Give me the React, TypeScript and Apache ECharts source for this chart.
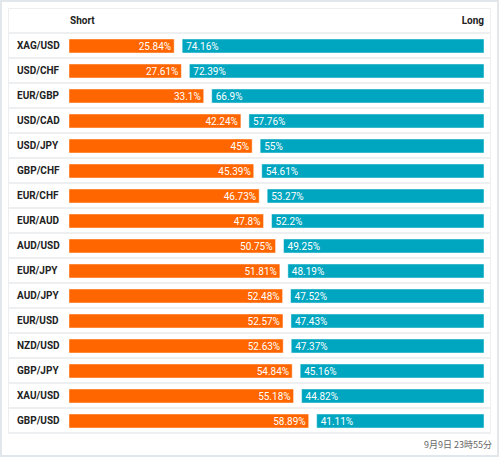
import React, { useEffect, useRef } from "react";
import * as echarts from "echarts";

const pairs = ["XAG/USD","USD/CHF","EUR/GBP","USD/CAD","USD/JPY","GBP/CHF","EUR/CHF","EUR/AUD","AUD/USD","EUR/JPY","AUD/JPY","EUR/USD","NZD/USD","GBP/JPY","XAU/USD","GBP/USD"];
const shortPct = [25.84,27.61,33.1,42.24,45,45.39,46.73,47.8,50.75,51.81,52.48,52.57,52.63,54.84,55.18,58.89];
const longPct = [74.16,72.39,66.9,57.76,55,54.61,53.27,52.2,49.25,48.19,47.52,47.43,47.37,45.16,44.82,41.11];
const headers = ["Short", "Long"];
const timestamp = "9月9日 23時55分";

const ORANGE = "#ff6600";
const TEAL = "#00a6c0";
const FONT = "Roboto, 'Noto Sans', sans-serif";

export default function App() {
  const ref = useRef<HTMLDivElement>(null);
  useEffect(() => {
    const chart = echarts.init(ref.current!, undefined, { renderer: "svg" });
    const GAP = 8;
    chart.setOption({
      animation: false,
      backgroundColor: "#ffffff",
      grid: [
        { left: 69, right: 24, top: 33, bottom: 25 },
        { left: 8, right: 9, top: 33, bottom: 25 },
      ],
      xAxis: [
        { type: "value", min: 0, max: 100, show: false, gridIndex: 0 },
        { type: "value", min: 0, max: 100, show: false, gridIndex: 1 },
      ],
      yAxis: [
        {
          type: "category",
          data: pairs,
          inverse: true,
          gridIndex: 0,
          axisLine: { show: false },
          axisTick: { show: false },
          splitLine: { show: false },
          axisLabel: {
            align: "left",
            margin: 52,
            color: "#222",
            fontWeight: "bold",
            fontSize: 10,
            fontFamily: FONT,
          },
        },
        {
          type: "category",
          data: pairs,
          inverse: true,
          gridIndex: 1,
          axisLine: { show: false },
          axisTick: { show: false },
          axisLabel: { show: false },
          splitLine: { show: true, lineStyle: { color: "#eeeff0", width: 2 } },
        },
      ],
      graphic: [
        { type: "rect", shape: { x: 1, y: 1, width: 497, height: 455 }, style: { fill: "none", stroke: "#e1e7ea", lineWidth: 2 }, silent: true },
        { type: "rect", shape: { x: 8.5, y: 8.5, width: 482, height: 424 }, style: { fill: "none", stroke: "#eceeef", lineWidth: 1 }, silent: true },
        { type: "text", left: 70, top: 15, style: { text: headers[0], fill: "#222", font: `bold 10px ${FONT}` } },
        { type: "text", right: 16, top: 15, style: { text: headers[1], fill: "#222", font: `bold 10px ${FONT}` } },
        { type: "text", right: 8, top: 440, style: { text: timestamp, fill: "#666", font: "9px 'Noto Sans CJK JP', sans-serif" } },
      ],
      series: [
        {
          type: "custom",
          xAxisIndex: 0,
          yAxisIndex: 0,
          encode: { x: 0, y: 1 },
          data: pairs.map((_, i) => [shortPct[i], i, longPct[i]]),
          renderItem: (params: any, api: any) => {
            const s = api.value(0);
            const i = api.value(1);
            const l = api.value(2);
            const p0 = api.coord([0, i]);
            const ps = api.coord([s, i]);
            const p100 = api.coord([100, i]);
            const h = 14;
            const y = p0[1] + 0.5;
            return {
              type: "group",
              children: [
                { type: "rect", shape: { x: p0[0], y: y - h / 2, width: ps[0] - p0[0], height: h }, style: { fill: ORANGE, stroke: "rgba(255,255,255,0.45)", lineWidth: 1 } },
                { type: "rect", shape: { x: ps[0] + GAP, y: y - h / 2, width: p100[0] - ps[0], height: h }, style: { fill: TEAL, stroke: "rgba(255,255,255,0.45)", lineWidth: 1 } },
                { type: "text", x: ps[0] - 3, y: y, style: { text: s + "%", fill: "#fff", align: "right", verticalAlign: "middle", font: `10px ${FONT}` } },
                { type: "text", x: ps[0] + GAP + 4, y: y, style: { text: l + "%", fill: "#fff", align: "left", verticalAlign: "middle", font: `10px ${FONT}` } },
              ],
            };
          },
        },
      ],
    });
    return () => chart.dispose();
  }, []);
  return <div ref={ref} style={{ position: "fixed", left: 0, top: 0, width: 500, height: 458 }} />;
}
